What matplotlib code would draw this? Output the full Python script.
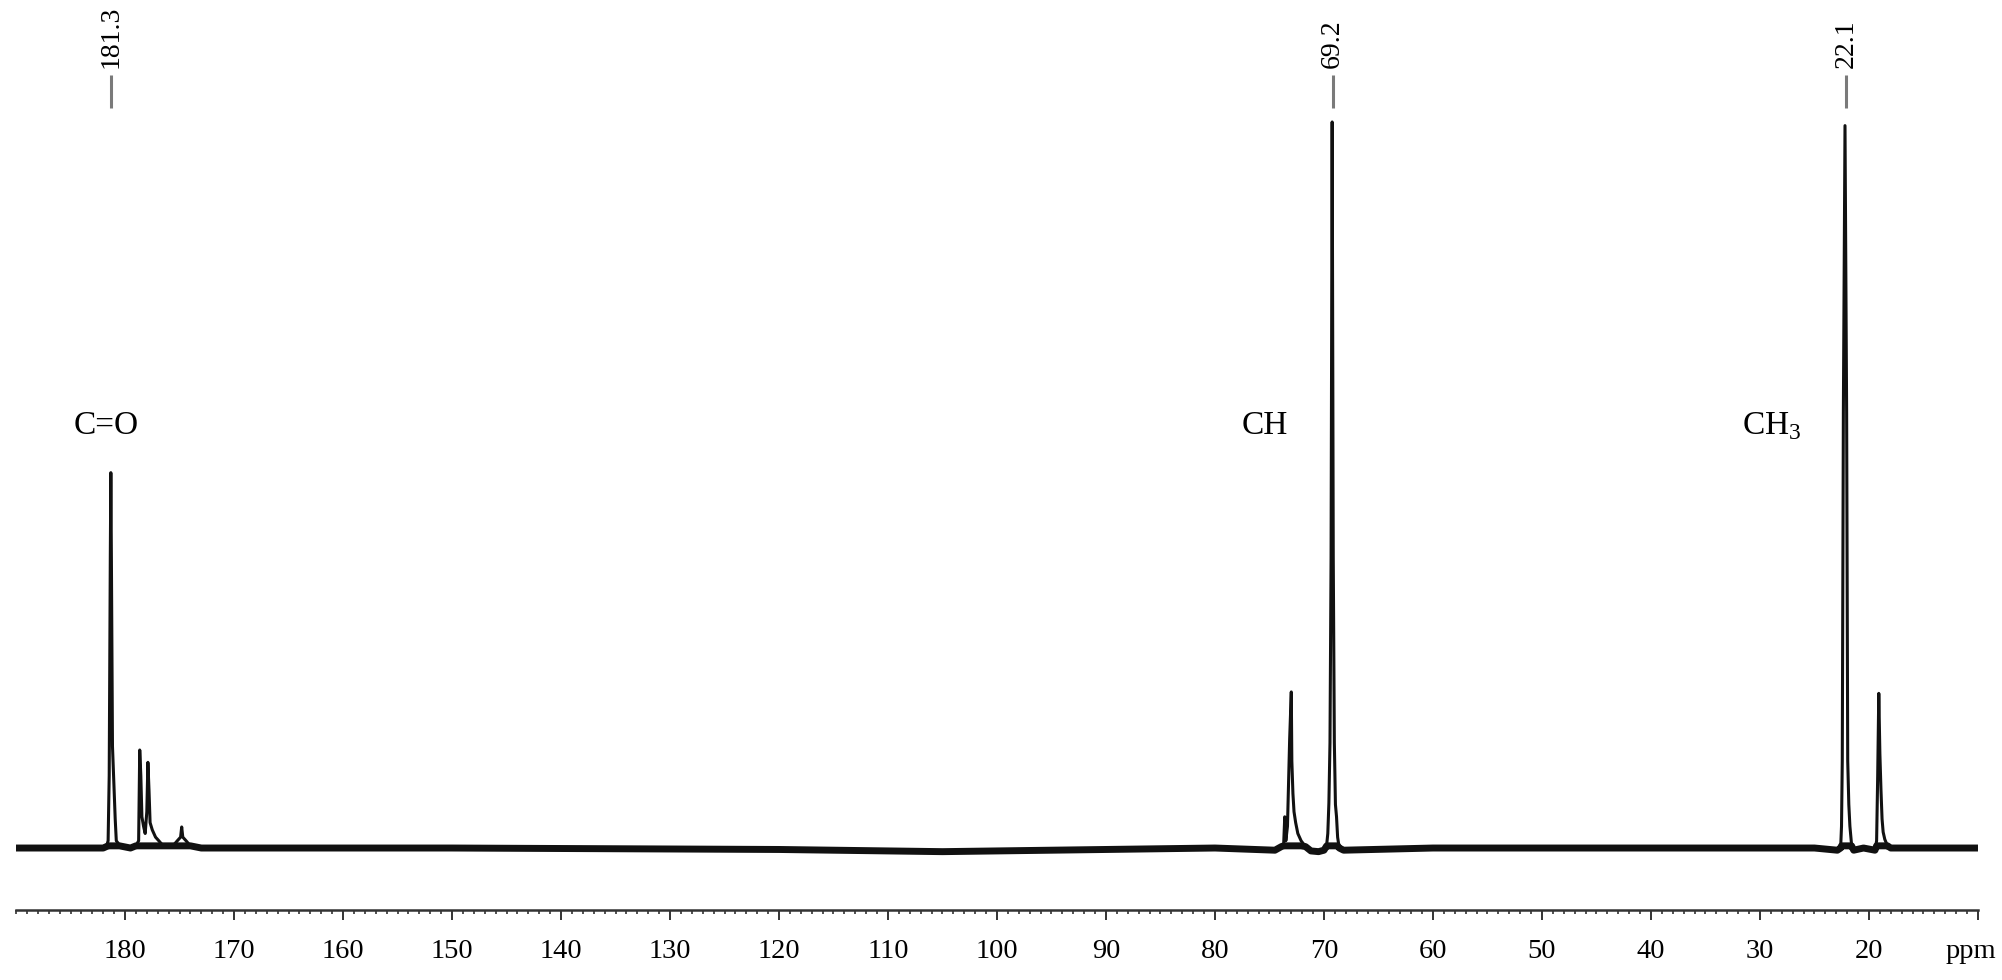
import matplotlib.pyplot as plt
import numpy as np
from matplotlib.ticker import FixedLocator, MultipleLocator
from matplotlib.transforms import ScaledTranslation

plt.rcParams["font.family"] = ["Liberation Serif", "DejaVu Serif"]
plt.rcParams["mathtext.fontset"] = "custom"
plt.rcParams["mathtext.rm"] = "Liberation Serif"

# 13C spectrum trace: chemical shift (ppm) and
# intensity relative to the 69.2 ppm line (=100)
ppm = [
    190.0, 185.0, 182.0, 181.7, 181.55, 181.45, 181.35, 181.3, 181.25,
    181.15, 181.0, 180.9, 180.8, 180.5, 179.5, 179.0, 178.75, 178.65,
    178.55, 178.45, 178.3, 178.15, 178.0, 177.9, 177.8, 177.7, 177.5,
    177.2, 176.9, 176.5, 175.6, 175.2, 174.9, 174.8, 174.7, 174.4, 174.0,
    173.0, 150.0, 120.0, 105.0, 95.0, 80.0, 74.5, 73.9, 73.7, 73.6, 73.5,
    73.35, 73.15, 73.0, 72.95, 72.85, 72.75, 72.6, 72.4, 72.1, 71.7, 71.2,
    70.5, 70.0, 69.75, 69.65, 69.55, 69.45, 69.35, 69.25, 69.15, 69.05,
    68.95, 68.85, 68.75, 68.6, 68.2, 60.0, 40.0, 25.0, 22.9, 22.6, 22.52,
    22.45, 22.35, 22.2, 22.05, 21.95, 21.85, 21.75, 21.6, 21.4, 20.5,
    19.45, 19.3, 19.2, 19.1, 19.0, 18.9, 18.8, 18.7, 18.55, 18.3, 18.0,
    10.0,
]
intensity = [
    0.0, 0.0, 0.0, 0.2, 1.0, 10.0, 40.0, 51.7, 40.0,
    14.0, 8.0, 4.0, 1.0, 0.4, 0.0, 0.3, 1.0, 13.5,
    10.0, 4.3, 3.0, 2.0, 5.0, 11.8, 8.0, 3.5, 2.5,
    1.5, 1.0, 0.3, 0.3, 1.0, 1.5, 2.9, 1.5, 1.0, 0.3,
    0.0, 0.0, -0.2, -0.5, -0.3, 0.0, -0.3, 0.2, 0.5, 4.3, 1.0,
    3.0, 15.0, 21.5, 12.0, 7.5, 5.0, 3.5, 2.0, 1.0, 0.2, -0.4,
    -0.5, -0.3, 0.5, 2.0, 6.2, 14.5, 40.0, 100.0, 40.0, 14.5,
    6.0, 4.3, 1.5, 0.0, -0.3, 0.0, 0.0, 0.0, -0.3, 0.0, 3.0,
    12.0, 60.0, 99.5, 60.0, 12.0, 6.0, 3.0, 0.5, -0.3, 0.0,
    -0.3, 1.0, 10.0, 21.3, 13.0, 8.0, 4.0, 2.2, 1.2, 0.3, 0.0,
    0.0,
]

# assigned lines and group labels
peak_labels = [181.3, 69.2, 22.1]
groups = ["C=O", "CH", "CH$_3$"]
group_ppm = [181.7, 75.4, 28.9]

major_ticks = list(range(180, 9, -10))
major_labels = [str(t) for t in major_ticks[:-1]] + ["ppm"]

fig = plt.figure(figsize=(20.02, 9.8), dpi=100)
ax = fig.add_axes([0.008, 0.0714, 0.98, 0.9286])

ppm_arr = np.array(ppm)
int_arr = np.array(intensity)

# noisy baseline band, then the sharp lines on top
ax.plot(ppm_arr, np.clip(int_arr, -0.6, 0.3), color="#111111", lw=5,
        solid_capstyle="butt")
ax.plot(ppm_arr, int_arr, color="#111111", lw=2.2)

# peak picking markers
ax.vlines(peak_labels, 101.9, 106.5, color="#7a7a7a", lw=2.2)
for p in peak_labels:
    ax.text(p, 107.4, f"{p}", rotation=90, ha="center", va="bottom",
            fontsize=20)

for name, p in zip(groups, group_ppm):
    ax.text(p, 57.0, name, ha="center", va="baseline", fontsize=24)

ax.set_xlim(190, 10)
ax.set_ylim(-8.54, 116.8)

for side in ["top", "left", "right"]:
    ax.spines[side].set_visible(False)
ax.spines["bottom"].set_linewidth(1.8)
ax.spines["bottom"].set_color("#333333")

ax.set_yticks([])
ax.xaxis.set_major_locator(FixedLocator(major_ticks))
ax.set_xticklabels(major_labels)
ax.xaxis.set_minor_locator(MultipleLocator(1))
ax.tick_params(axis="x", which="major", direction="out", length=7,
               width=1.4, color="#333333", labelsize=20.5, pad=14)
ax.tick_params(axis="x", which="minor", direction="out", length=3,
               width=1.2, color="#333333")

# the unit label sits a little inside the right edge
unit = ax.get_xticklabels()[-1]
unit.set_transform(unit.get_transform()
                   + ScaledTranslation(-0.07, 0, fig.dpi_scale_trans))

fig.savefig("out.png", dpi=100)
